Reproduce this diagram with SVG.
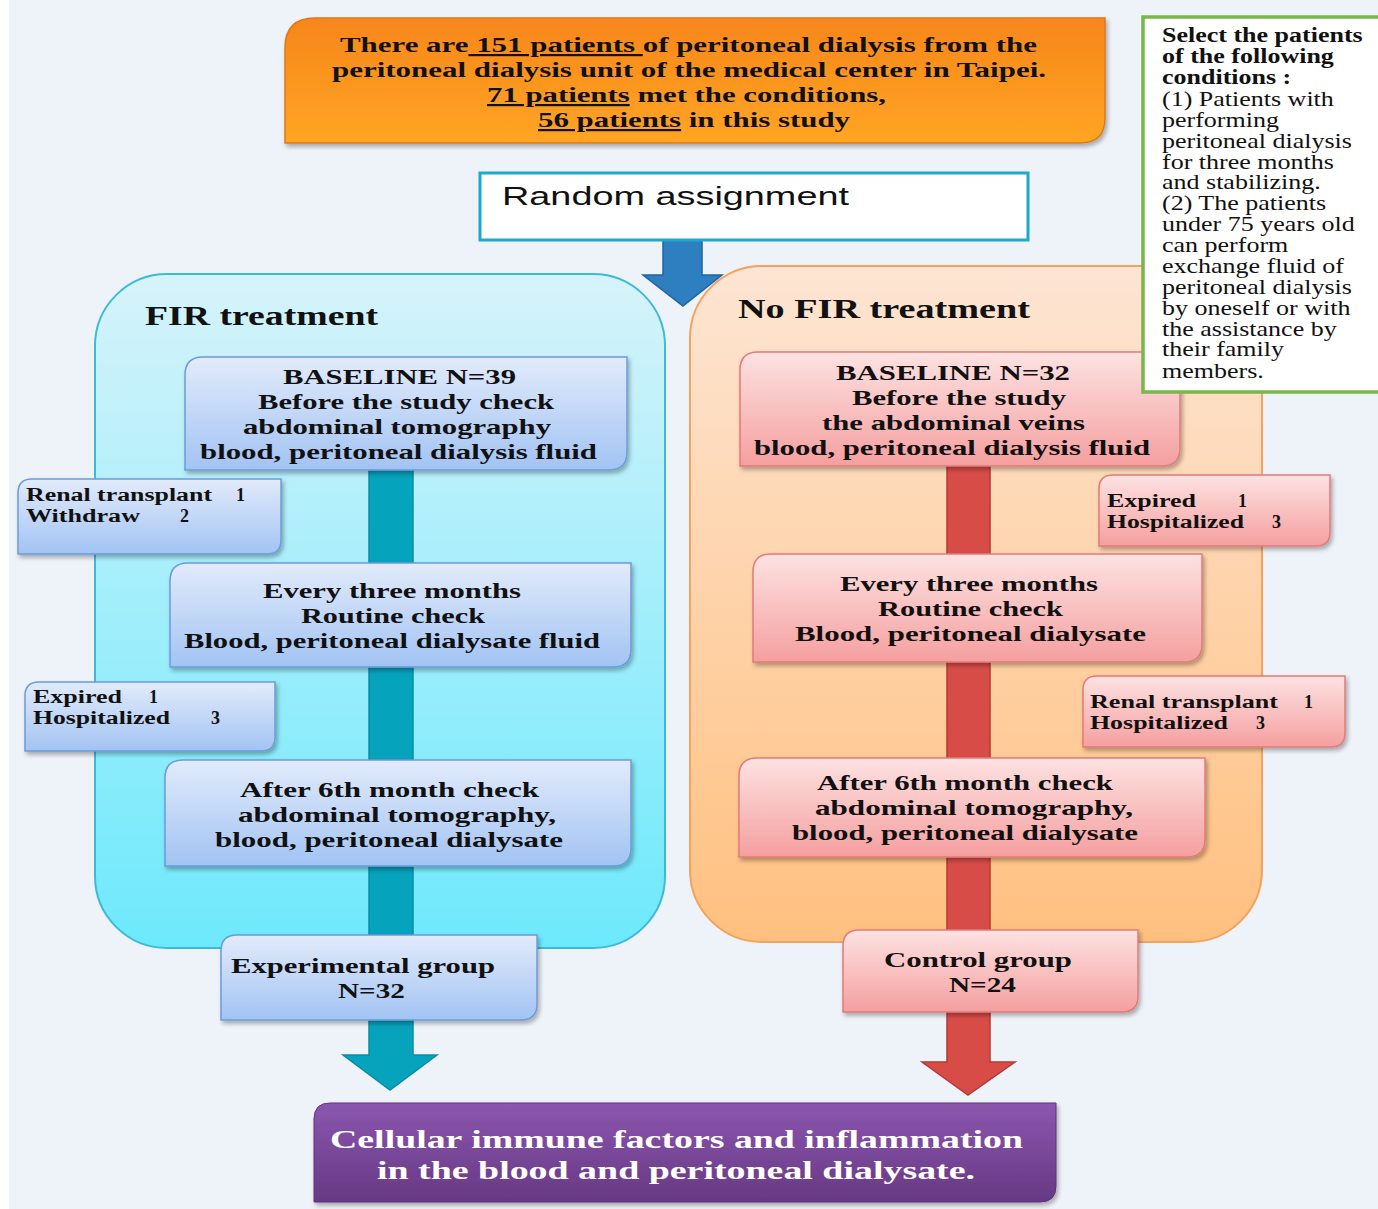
<svg xmlns="http://www.w3.org/2000/svg" width="1378" height="1209" viewBox="0 0 1378 1209">
<defs>
<linearGradient id="gOrange" x1="0" y1="0" x2="0" y2="1"><stop offset="0" stop-color="#f7861a"/><stop offset="1" stop-color="#ffa524"/></linearGradient>
<linearGradient id="gCyan" x1="0" y1="0" x2="0" y2="1"><stop offset="0" stop-color="#d6f3fa"/><stop offset="1" stop-color="#6de9fc"/></linearGradient>
<linearGradient id="gPeach" x1="0" y1="0" x2="0" y2="1"><stop offset="0" stop-color="#fde5d3"/><stop offset="1" stop-color="#ffc07f"/></linearGradient>
<linearGradient id="gBlue" x1="0" y1="0" x2="0" y2="1"><stop offset="0" stop-color="#e2ebfb"/><stop offset="1" stop-color="#a2c3f3"/></linearGradient>
<linearGradient id="gPink" x1="0" y1="0" x2="0" y2="1"><stop offset="0" stop-color="#fde2e2"/><stop offset="1" stop-color="#f59f9f"/></linearGradient>
<linearGradient id="gPurple" x1="0" y1="0" x2="0" y2="1"><stop offset="0" stop-color="#8b57b0"/><stop offset="1" stop-color="#673883"/></linearGradient>
<filter id="sh" x="-5%" y="-5%" width="115%" height="125%"><feDropShadow dx="2" dy="3" stdDeviation="2" flood-color="#000" flood-opacity="0.3"/></filter>
<style>
.t{font-family:"Liberation Serif","Times New Roman",serif;font-weight:bold;fill:#111;}
.m{font-size:21px;}
.s{font-size:18px;}
.h{font-size:27px;}
.top{font-size:22px;}
.w{fill:#ffffff;font-size:26px;}
.blue{fill:url(#gBlue);stroke:#6b9cd9;stroke-width:1.5;filter:url(#sh);}
.pink{fill:url(#gPink);stroke:#e27b78;stroke-width:1.5;filter:url(#sh);}
.sel{font-family:"Liberation Serif","Times New Roman",serif;font-size:20px;fill:#111;}
</style>
</defs>
<rect x="0" y="0" width="1378" height="1209" fill="#eef2f9"/>
<rect x="0" y="0" width="9" height="1209" fill="#ffffff"/>

<!-- containers -->
<g id="fir-group">
<rect x="95" y="274" width="570" height="674" rx="72" fill="url(#gCyan)" stroke="#3dbbd6" stroke-width="2"/>
<text class="t h" x="145" y="325" textLength="233" lengthAdjust="spacingAndGlyphs">FIR treatment</text>
</g>
<g id="nofir-group">
<rect x="690" y="266" width="572" height="676" rx="72" fill="url(#gPeach)" stroke="#f4a35e" stroke-width="2"/>
<text class="t h" x="738" y="318" textLength="292" lengthAdjust="spacingAndGlyphs">No FIR treatment</text>
</g>

<!-- connectors -->
<g id="connectors">
<polygon points="663,240 702,240 702,275 722,275 683,306 643,275 663,275" fill="#2d7fbf" stroke="#1d66a2" stroke-width="1.5"/>
<polygon points="369,470 413,470 413,1055 437,1055 390,1090 343,1055 369,1055" fill="#06a3bc" stroke="#0a8ea3" stroke-width="1.5"/>
<polygon points="947,466 990,466 990,1062 1015,1062 968,1095 922,1062 947,1062" fill="#d84c48" stroke="#b73935" stroke-width="1.5"/>
</g>

<g id="source">
<path d="M315,18 H1105 V118 Q1105,143 1080,143 H285 V48 Q285,18 315,18 Z" fill="url(#gOrange)" stroke="#e07812" stroke-width="1.5" filter="url(#sh)"/>
<text class="t top" x="340" y="52" textLength="697" lengthAdjust="spacingAndGlyphs">There are<tspan text-decoration="underline"> 151 patients </tspan>of peritoneal dialysis from the</text>
<text class="t top" x="332" y="77" textLength="714" lengthAdjust="spacingAndGlyphs">peritoneal dialysis unit of the medical center in Taipei.</text>
<text class="t top" x="487" y="102" textLength="399" lengthAdjust="spacingAndGlyphs"><tspan text-decoration="underline">71 patients</tspan> met the conditions,</text>
<text class="t top" x="538" y="127" textLength="312" lengthAdjust="spacingAndGlyphs"><tspan text-decoration="underline">56 patients</tspan> in this study</text>
</g>

<g id="random">
<rect x="480" y="173" width="548" height="67" fill="#ffffff" stroke="#1fa8c9" stroke-width="3"/>
<text x="502" y="205" font-family="'Liberation Sans',Arial,sans-serif" font-size="26" fill="#111" textLength="347" lengthAdjust="spacingAndGlyphs">Random assignment</text>
</g>

<!-- left nodes -->
<g id="l-baseline">
<path class="blue" d="M203,357 H627 V452 Q627,470 609,470 H185 V375 Q185,357 203,357 Z"/>
<text class="t m" x="283" y="384" textLength="233" lengthAdjust="spacingAndGlyphs">BASELINE N=39</text>
<text class="t m" x="258" y="409" textLength="296" lengthAdjust="spacingAndGlyphs">Before the study check</text>
<text class="t m" x="243" y="434" textLength="308" lengthAdjust="spacingAndGlyphs">abdominal tomography</text>
<text class="t m" x="200" y="459" textLength="397" lengthAdjust="spacingAndGlyphs">blood, peritoneal dialysis fluid</text>
</g>
<g id="l-drop1">
<path class="blue" d="M32,479 H281 V540 Q281,554 267,554 H18 V493 Q18,479 32,479 Z"/>
<text class="t s" x="26" y="501" textLength="186" lengthAdjust="spacingAndGlyphs">Renal transplant</text>
<text class="t s" x="236" y="501">1</text>
<text class="t s" x="26" y="522" textLength="114" lengthAdjust="spacingAndGlyphs">Withdraw</text>
<text class="t s" x="180" y="522">2</text>
</g>
<g id="l-three">
<path class="blue" d="M188,563 H631 V649 Q631,667 613,667 H170 V581 Q170,563 188,563 Z"/>
<text class="t m" x="263" y="598" textLength="258" lengthAdjust="spacingAndGlyphs">Every three months</text>
<text class="t m" x="301" y="623" textLength="184" lengthAdjust="spacingAndGlyphs">Routine check</text>
<text class="t m" x="184" y="648" textLength="416" lengthAdjust="spacingAndGlyphs">Blood, peritoneal dialysate fluid</text>
</g>
<g id="l-drop2">
<path class="blue" d="M39,682 H275 V737 Q275,751 261,751 H25 V696 Q25,682 39,682 Z"/>
<text class="t s" x="33" y="703" textLength="89" lengthAdjust="spacingAndGlyphs">Expired</text>
<text class="t s" x="149" y="703">1</text>
<text class="t s" x="33" y="724" textLength="137" lengthAdjust="spacingAndGlyphs">Hospitalized</text>
<text class="t s" x="211" y="724">3</text>
</g>
<g id="l-six">
<path class="blue" d="M183,760 H631 V848 Q631,866 613,866 H165 V778 Q165,760 183,760 Z"/>
<text class="t m" x="240" y="797" textLength="299" lengthAdjust="spacingAndGlyphs">After 6th month check</text>
<text class="t m" x="238" y="822" textLength="318" lengthAdjust="spacingAndGlyphs">abdominal tomography,</text>
<text class="t m" x="215" y="847" textLength="348" lengthAdjust="spacingAndGlyphs">blood, peritoneal dialysate</text>
</g>
<g id="l-group">
<path class="blue" d="M237,935 H537 V1004 Q537,1020 521,1020 H221 V951 Q221,935 237,935 Z"/>
<text class="t m" x="231" y="973" textLength="264" lengthAdjust="spacingAndGlyphs">Experimental group</text>
<text class="t m" x="338" y="998" textLength="67" lengthAdjust="spacingAndGlyphs">N=32</text>
</g>

<!-- right nodes -->
<g id="r-baseline">
<path class="pink" d="M758,352 H1180 V448 Q1180,466 1162,466 H740 V370 Q740,352 758,352 Z"/>
<text class="t m" x="836" y="380" textLength="234" lengthAdjust="spacingAndGlyphs">BASELINE N=32</text>
<text class="t m" x="852" y="405" textLength="214" lengthAdjust="spacingAndGlyphs">Before the study</text>
<text class="t m" x="822" y="430" textLength="263" lengthAdjust="spacingAndGlyphs">the abdominal veins</text>
<text class="t m" x="754" y="455" textLength="396" lengthAdjust="spacingAndGlyphs">blood, peritoneal dialysis fluid</text>
</g>
<g id="r-drop1">
<path class="pink" d="M1113,475 H1330 V532 Q1330,546 1316,546 H1099 V489 Q1099,475 1113,475 Z"/>
<text class="t s" x="1107" y="507" textLength="89" lengthAdjust="spacingAndGlyphs">Expired</text>
<text class="t s" x="1238" y="507">1</text>
<text class="t s" x="1107" y="528" textLength="137" lengthAdjust="spacingAndGlyphs">Hospitalized</text>
<text class="t s" x="1272" y="528">3</text>
</g>
<g id="r-three">
<path class="pink" d="M771,554 H1202 V644 Q1202,662 1184,662 H753 V572 Q753,554 771,554 Z"/>
<text class="t m" x="840" y="591" textLength="258" lengthAdjust="spacingAndGlyphs">Every three months</text>
<text class="t m" x="878" y="616" textLength="185" lengthAdjust="spacingAndGlyphs">Routine check</text>
<text class="t m" x="795" y="641" textLength="351" lengthAdjust="spacingAndGlyphs">Blood, peritoneal dialysate</text>
</g>
<g id="r-drop2">
<path class="pink" d="M1097,676 H1345 V733 Q1345,747 1331,747 H1083 V690 Q1083,676 1097,676 Z"/>
<text class="t s" x="1090" y="708" textLength="188" lengthAdjust="spacingAndGlyphs">Renal transplant</text>
<text class="t s" x="1304" y="708">1</text>
<text class="t s" x="1090" y="729" textLength="138" lengthAdjust="spacingAndGlyphs">Hospitalized</text>
<text class="t s" x="1256" y="729">3</text>
</g>
<g id="r-six">
<path class="pink" d="M757,758 H1205 V839 Q1205,857 1187,857 H739 V776 Q739,758 757,758 Z"/>
<text class="t m" x="817" y="790" textLength="296" lengthAdjust="spacingAndGlyphs">After 6th month check</text>
<text class="t m" x="815" y="815" textLength="318" lengthAdjust="spacingAndGlyphs">abdominal tomography,</text>
<text class="t m" x="792" y="840" textLength="346" lengthAdjust="spacingAndGlyphs">blood, peritoneal dialysate</text>
</g>
<g id="r-group">
<path class="pink" d="M859,930 H1138 V996 Q1138,1012 1122,1012 H843 V946 Q843,930 859,930 Z"/>
<text class="t m" x="884" y="967" textLength="188" lengthAdjust="spacingAndGlyphs">Control group</text>
<text class="t m" x="949" y="992" textLength="67" lengthAdjust="spacingAndGlyphs">N=24</text>
</g>

<g id="outcome">
<path d="M330,1103 H1056 V1186 Q1056,1202 1040,1202 H314 V1119 Q314,1103 330,1103 Z" fill="url(#gPurple)" stroke="#5e3479" stroke-width="1" filter="url(#sh)"/>
<text class="t w" x="330" y="1148" textLength="693" lengthAdjust="spacingAndGlyphs">Cellular immune factors and inflammation</text>
<text class="t w" x="377" y="1179" textLength="598" lengthAdjust="spacingAndGlyphs">in the blood and peritoneal dialysate.</text>
</g>

<g id="criteria">
<rect x="1143" y="17" width="240" height="375" fill="#ffffff" stroke="#79b74a" stroke-width="3.5"/>
<g transform="translate(1162 0) scale(1.3 1)">
<text class="sel" font-weight="bold" x="0" y="42">Select the patients</text>
<text class="sel" font-weight="bold" x="0" y="63">of the following</text>
<text class="sel" font-weight="bold" x="0" y="84">conditions :</text>
<text class="sel" x="0" y="106">(1) Patients with</text>
<text class="sel" x="0" y="127">performing</text>
<text class="sel" x="0" y="148">peritoneal dialysis</text>
<text class="sel" x="0" y="169">for three months</text>
<text class="sel" x="0" y="189">and stabilizing.</text>
<text class="sel" x="0" y="210">(2) The patients</text>
<text class="sel" x="0" y="231">under 75 years old</text>
<text class="sel" x="0" y="252">can perform</text>
<text class="sel" x="0" y="273">exchange fluid of</text>
<text class="sel" x="0" y="294">peritoneal dialysis</text>
<text class="sel" x="0" y="315">by oneself or with</text>
<text class="sel" x="0" y="336">the assistance by</text>
<text class="sel" x="0" y="356">their family</text>
<text class="sel" x="0" y="378">members.</text>
</g>
</g>
</svg>
